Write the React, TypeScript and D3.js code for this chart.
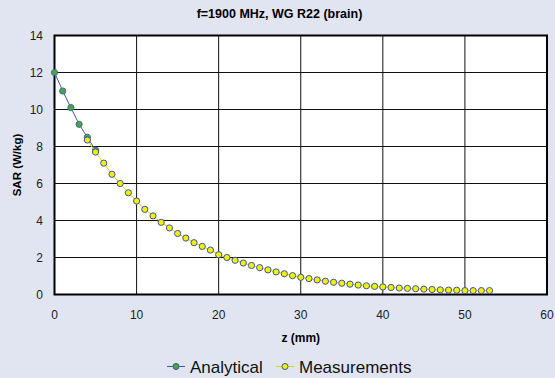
import { useEffect, useRef } from 'react';
import * as d3 from 'd3';

const analyticalZ = [0, 1, 2, 3, 4, 5];
const analyticalSar = [12.0, 11.0, 10.1, 9.2, 8.5, 7.8];

const measuredZ = [
  4, 5, 6, 7, 8, 9, 10, 11, 12, 13, 14, 15, 16, 17, 18, 19, 20, 21, 22, 23, 24, 25, 26, 27, 28,
  29, 30, 31, 32, 33, 34, 35, 36, 37, 38, 39, 40, 41, 42, 43, 44, 45, 46, 47, 48, 49, 50, 51, 52, 53,
];
const measuredSar = [
  8.35, 7.7, 7.1, 6.5, 6.0, 5.5, 5.05, 4.6, 4.25, 3.9, 3.6, 3.3, 3.05, 2.8, 2.6, 2.4, 2.15, 2.0,
  1.85, 1.7, 1.57, 1.45, 1.33, 1.22, 1.12, 1.02, 0.93, 0.86, 0.79, 0.72, 0.66, 0.61, 0.56, 0.51,
  0.47, 0.44, 0.41, 0.38, 0.35, 0.33, 0.31, 0.29, 0.27, 0.25, 0.24, 0.23, 0.21, 0.21, 0.21, 0.21,
];

const xTicks = [0, 10, 20, 30, 40, 50, 60];
const yTicks = [0, 2, 4, 6, 8, 10, 12, 14];

const W = 555;
const H = 378;
const font = 'Arial, "Liberation Sans", sans-serif';

const App = () => {
  const svgRef = useRef<SVGSVGElement>(null);

  useEffect(() => {
    const svg = d3.select(svgRef.current);
    svg.selectAll('*').remove();

    const x = d3.scaleLinear().domain([0, 60]).range([54.5, 547]);
    const y = d3.scaleLinear().domain([0, 14]).range([294.5, 35.5]);

    svg.append('rect').attr('width', W).attr('height', H).attr('fill', '#e1e5f1');

    // plot area
    svg.append('rect')
      .attr('x', x(0)).attr('y', y(14))
      .attr('width', x(60) - x(0)).attr('height', y(0) - y(14))
      .attr('fill', '#fff');

    const grid = svg.append('g').attr('stroke', '#111').attr('stroke-width', 1);
    xTicks.slice(1, -1).forEach(t => {
      grid.append('line').attr('x1', x(t)).attr('x2', x(t)).attr('y1', y(0)).attr('y2', y(14));
    });
    yTicks.slice(1, -1).forEach(t => {
      grid.append('line').attr('x1', x(0)).attr('x2', x(60)).attr('y1', y(t)).attr('y2', y(t));
    });

    svg.append('rect')
      .attr('x', x(0)).attr('y', y(14))
      .attr('width', x(60) - x(0)).attr('height', y(0) - y(14))
      .attr('fill', 'none').attr('stroke', '#000').attr('stroke-width', 2);

    // tick labels
    svg.append('g').selectAll('text').data(xTicks).enter().append('text')
      .attr('x', d => x(d)).attr('y', 319).attr('text-anchor', 'middle')
      .style('font-family', font).style('font-size', '12px').attr('fill', '#222')
      .text(d => d);
    svg.append('g').selectAll('text').data(yTicks).enter().append('text')
      .attr('x', 43).attr('y', d => y(d) + 4.5).attr('text-anchor', 'end')
      .style('font-family', font).style('font-size', '12px').attr('fill', '#222')
      .text(d => d);

    // titles
    svg.append('text')
      .attr('x', W / 2 + 2).attr('y', 18).attr('text-anchor', 'middle')
      .style('font-family', font).style('font-size', '12.5px').style('font-weight', 'bold')
      .text('f=1900 MHz, WG R22 (brain)');
    svg.append('text')
      .attr('x', (x(0) + x(60)) / 2).attr('y', 342).attr('text-anchor', 'middle')
      .style('font-family', font).style('font-size', '12px').style('font-weight', 'bold')
      .text('z (mm)');
    svg.append('text')
      .attr('transform', `translate(21, ${(y(0) + y(14)) / 2}) rotate(-90)`)
      .attr('text-anchor', 'middle')
      .style('font-family', font).style('font-size', '11.5px').style('font-weight', 'bold')
      .text('SAR (W/kg)');

    const line = d3.line<[number, number]>().x(d => x(d[0])).y(d => y(d[1]));
    const aData = analyticalZ.map((z, i) => [z, analyticalSar[i]] as [number, number]);
    const mData = measuredZ.map((z, i) => [z, measuredSar[i]] as [number, number]);

    svg.append('path').datum(aData).attr('d', line)
      .attr('fill', 'none').attr('stroke', '#3a5aa8').attr('stroke-width', 1);
    svg.append('g').selectAll('circle').data(aData).enter().append('circle')
      .attr('cx', d => x(d[0])).attr('cy', d => y(d[1])).attr('r', 3.1)
      .attr('fill', '#4aa83a').attr('stroke', '#4466aa').attr('stroke-width', 1);

    svg.append('path').datum(mData).attr('d', line)
      .attr('fill', 'none').attr('stroke', '#d8d800').attr('stroke-width', 1);
    svg.append('g').selectAll('circle').data(mData).enter().append('circle')
      .attr('cx', d => x(d[0])).attr('cy', d => y(d[1])).attr('r', 3.1)
      .attr('fill', '#f5f000').attr('stroke', '#3a55a5').attr('stroke-width', 1);

    // legend
    const legend = [
      { label: 'Analytical', lineColor: '#3a5aa8', fill: '#4aa83a', x0: 167 },
      { label: 'Measurements', lineColor: '#d8d800', fill: '#f5f000', x0: 276 },
    ];
    legend.forEach(l => {
      const g = svg.append('g').attr('transform', `translate(${l.x0}, 366.5)`);
      g.append('line').attr('x1', 0).attr('x2', 18).attr('stroke', l.lineColor).attr('stroke-width', 1);
      g.append('circle').attr('cx', 9).attr('r', 3).attr('fill', l.fill)
        .attr('stroke', '#3a55a5').attr('stroke-width', 1);
      g.append('text').attr('x', 23).attr('y', 6)
        .style('font-family', font).style('font-size', '17px').attr('fill', '#111')
        .text(l.label);
    });
  }, []);

  return (
    <svg ref={svgRef} width={W} height={H}
      style={{ position: 'absolute', left: 0, top: 0, display: 'block' }} />
  );
};

export default App;
